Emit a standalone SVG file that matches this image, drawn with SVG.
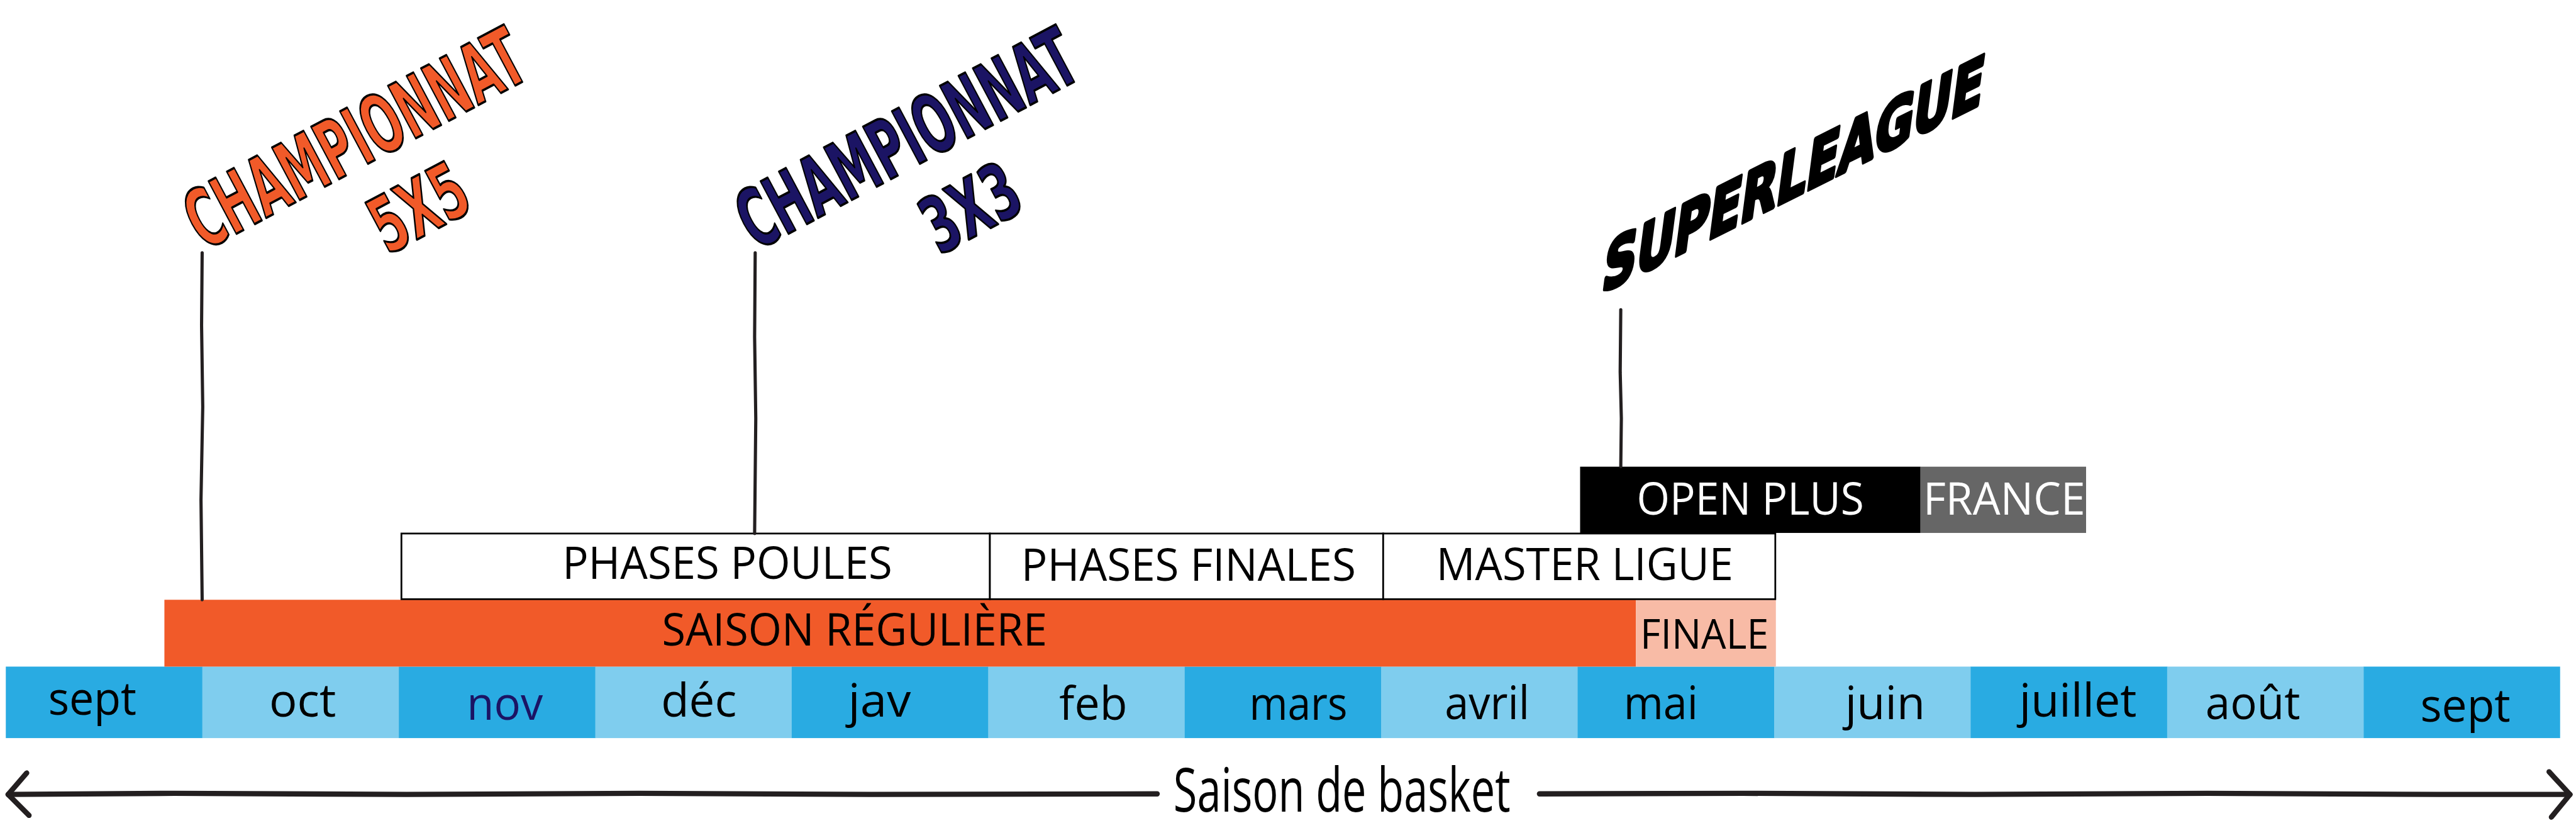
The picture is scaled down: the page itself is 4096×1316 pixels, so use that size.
<svg xmlns="http://www.w3.org/2000/svg" width="4096" height="1316" viewBox="0 0 4096 1316">
<style>
.m{font-family:"Open Sans","DejaVu Sans",sans-serif;font-size:80px;fill:#000;text-anchor:middle}
.dk{fill:#29ABE2}
.lt{fill:#7FCDEE}
.lbl{font-family:"Open Sans","DejaVu Sans",sans-serif;font-size:78px;text-anchor:middle;fill:#000}
.box{fill:#fff;stroke:#000;stroke-width:3}
.comic{font-family:"DejaVu Sans",sans-serif;font-weight:bold;stroke:#000;stroke-width:4;stroke-linejoin:round}
.ln{fill:none;stroke:#231F20;stroke-width:5.5;stroke-linecap:round;stroke-linejoin:round}
.arw{fill:none;stroke:#231F20;stroke-width:9;stroke-linecap:round;stroke-linejoin:round}
</style>
<rect width="4096" height="1316" fill="#fff"/>
<g transform="scale(0.9237)">
  <!-- months -->
  <g id="months">
    <g id="m-sept1"><rect class="dk" x="10" y="1147" width="338.7" height="123"/><text class="m" x="159" y="1230" textLength="152" lengthAdjust="spacingAndGlyphs">sept</text></g>
    <g id="m-oct"><rect class="lt" x="348.2" y="1147" width="338.7" height="123"/><text class="m" x="521" y="1233" textLength="115" lengthAdjust="spacingAndGlyphs">oct</text></g>
    <g id="m-nov"><rect class="dk" x="686.5" y="1147" width="338.7" height="123"/><text class="m" x="869" y="1239" textLength="131" lengthAdjust="spacingAndGlyphs" style="fill:#1B1464">nov</text></g>
    <g id="m-dec"><rect class="lt" x="1024.7" y="1147" width="338.7" height="123"/><text class="m" x="1203" y="1233" textLength="130" lengthAdjust="spacingAndGlyphs">déc</text></g>
    <g id="m-jav"><rect class="dk" x="1362.9" y="1147" width="338.7" height="123"/><text class="m" x="1514" y="1233" textLength="108" lengthAdjust="spacingAndGlyphs">jav</text></g>
    <g id="m-feb"><rect class="lt" x="1701.2" y="1147" width="338.7" height="123"/><text class="m" x="1882" y="1239" textLength="117" lengthAdjust="spacingAndGlyphs">feb</text></g>
    <g id="m-mars"><rect class="dk" x="2039.4" y="1147" width="338.7" height="123"/><text class="m" x="2235" y="1239" textLength="169" lengthAdjust="spacingAndGlyphs">mars</text></g>
    <g id="m-avril"><rect class="lt" x="2377.6" y="1147" width="338.7" height="123"/><text class="m" x="2560" y="1237" textLength="146" lengthAdjust="spacingAndGlyphs">avril</text></g>
    <g id="m-mai"><rect class="dk" x="2715.8" y="1147" width="338.7" height="123"/><text class="m" x="2859" y="1237" textLength="128" lengthAdjust="spacingAndGlyphs">mai</text></g>
    <g id="m-juin"><rect class="lt" x="3054.1" y="1147" width="338.7" height="123"/><text class="m" x="3245" y="1237" textLength="138" lengthAdjust="spacingAndGlyphs">juin</text></g>
    <g id="m-juillet"><rect class="dk" x="3392.3" y="1147" width="338.7" height="123"/><text class="m" x="3577" y="1233" textLength="202" lengthAdjust="spacingAndGlyphs">juillet</text></g>
    <g id="m-aout"><rect class="lt" x="3730.5" y="1147" width="338.7" height="123"/><text class="m" x="3878" y="1237" textLength="163" lengthAdjust="spacingAndGlyphs">août</text></g>
    <g id="m-sept2"><rect class="dk" x="4068.8" y="1147" width="338.2" height="123"/><text class="m" x="4244" y="1242" textLength="155" lengthAdjust="spacingAndGlyphs">sept</text></g>
  </g>

  <!-- season bars -->
  <g id="saison-reguliere"><rect x="283" y="1032" width="2533" height="115" fill="#F15A29"/><text class="lbl" x="1471" y="1111" textLength="663" lengthAdjust="spacingAndGlyphs">SAISON RÉGULIÈRE</text></g>
  <g id="finale"><rect x="2816" y="1032" width="241" height="115" fill="#F8BBA6"/><text class="lbl" x="2934" y="1116" style="font-size:71px" textLength="221" lengthAdjust="spacingAndGlyphs">FINALE</text></g>

  <g id="phases-poules"><rect class="box" x="691" y="918" width="1013" height="113"/><text class="lbl" x="1252" y="996" textLength="568" lengthAdjust="spacingAndGlyphs">PHASES POULES</text></g>
  <g id="phases-finales"><rect class="box" x="1704" y="918" width="677" height="113"/><text class="lbl" x="2046" y="999" textLength="576" lengthAdjust="spacingAndGlyphs">PHASES FINALES</text></g>
  <g id="master-ligue"><rect class="box" x="2381" y="918" width="675" height="113"/><text class="lbl" x="2728" y="998" textLength="511" lengthAdjust="spacingAndGlyphs">MASTER LIGUE</text></g>

  <g id="open-plus"><rect x="2720" y="803" width="586" height="114" fill="#000"/><text class="lbl" x="3013" y="886" textLength="391" lengthAdjust="spacingAndGlyphs" style="fill:#fff">OPEN PLUS</text></g>
  <g id="france"><rect x="3306" y="803" width="285" height="114" fill="#666666"/><text class="lbl" x="3450" y="886" textLength="279" lengthAdjust="spacingAndGlyphs" style="fill:#fff">FRANCE</text></g>

  <!-- titles -->
  <g id="championnat-5x5">
    <text class="comic" fill="#F15A29" font-size="140" transform="translate(351 432) rotate(-28)" textLength="640" lengthAdjust="spacingAndGlyphs">CHAMPIONNAT</text>
    <text class="comic" fill="#F15A29" font-size="134" text-anchor="middle" transform="translate(743 399) rotate(-28)" textLength="172" lengthAdjust="spacingAndGlyphs">5X5</text>
  </g>
  <g id="championnat-3x3">
    <text class="comic" fill="#1B1464" font-size="140" transform="translate(1301 432) rotate(-28)" textLength="640" lengthAdjust="spacingAndGlyphs">CHAMPIONNAT</text>
    <text class="comic" fill="#1B1464" font-size="134" text-anchor="middle" transform="translate(1693 399) rotate(-28)" textLength="172" lengthAdjust="spacingAndGlyphs">3X3</text>
  </g>
  <g id="superleague">
    <text class="comic" fill="#000" font-size="112" style="stroke-width:7" transform="translate(2755 505) skewY(-26.5) skewX(-8)" textLength="655" lengthAdjust="spacingAndGlyphs">SUPERLEAGUE</text>
  </g>

  <!-- connectors -->
  <g id="connectors">
    <path class="ln" d="M348 435 L347 560 L349 700 L346 860 L348 1032"/>
    <path class="ln" d="M1300 435 L1299 580 L1301 720 L1299 918"/>
    <path class="ln" d="M2790 533 L2789 640 L2791 720 L2790 803"/>
    <path class="arw" d="M14 1367 L300 1365 L700 1367 L1100 1365 L1500 1367 L1992 1366"/>
    <path class="arw" d="M2650 1366 L3000 1365 L3400 1367 L3800 1365 L4200 1367 L4424 1367"/>
    <path class="arw" d="M46 1330 L14 1367 L50 1403"/>
    <path class="arw" d="M4388 1328 L4424 1367 L4392 1406"/>
  </g>
  <g id="timeline-label"><text class="lbl" x="2310" y="1397" style="font-size:106px" textLength="580" lengthAdjust="spacingAndGlyphs">Saison de basket</text></g>
</g>
</svg>
